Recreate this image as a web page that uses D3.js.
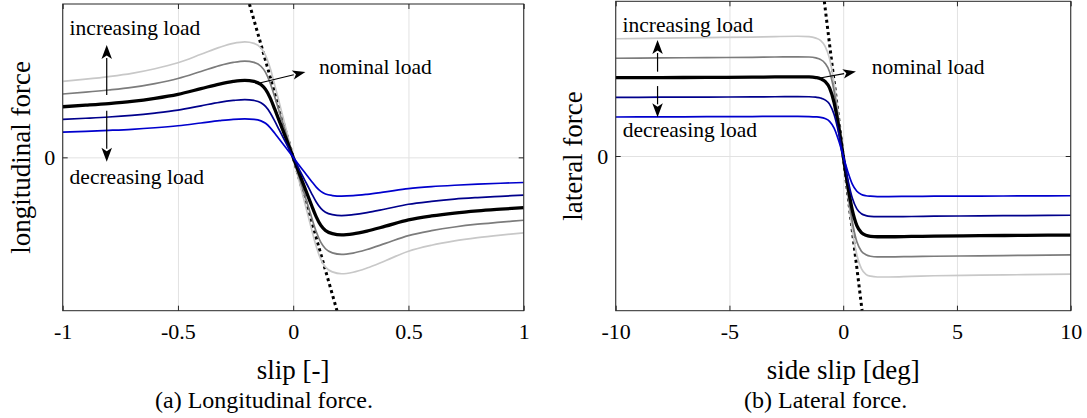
<!DOCTYPE html>
<html>
<head>
<meta charset="utf-8">
<script src="https://cdn.jsdelivr.net/npm/d3@7"></script>
<style>
  html, body { margin: 0; padding: 0; background: #fff; }
  svg { display: block; font-family: "Liberation Serif", "Times New Roman", serif; }
  text { font-family: "Liberation Serif", "Times New Roman", serif; fill: #000; }
</style>
</head>
<body>
<svg id="chart" width="1087" height="418"></svg>
<script>
// ---------- Longitudinal force vs. slip ----------
const slipX = [-1, -0.9, -0.8, -0.7, -0.6, -0.5, -0.4, -0.32, -0.26, -0.21, -0.17, -0.14, -0.12, -0.1,
  -0.08, -0.06, -0.04, -0.02, 0, 0.02, 0.04, 0.06, 0.08, 0.1, 0.12, 0.14, 0.17, 0.21, 0.26, 0.32,
  0.4, 0.5, 0.6, 0.7, 0.8, 0.9, 1];
const fxLoad150 = [0.495, 0.510, 0.527, 0.548, 0.578, 0.617, 0.672, 0.717, 0.743, 0.753, 0.743, 0.713, 0.665, 0.582,
  0.471, 0.354, 0.237, 0.120, 0, -0.120, -0.237, -0.354, -0.471, -0.582, -0.666, -0.716, -0.747, -0.759, -0.749, -0.722,
  -0.674, -0.612, -0.573, -0.545, -0.524, -0.507, -0.492];
const fxLoad125 = [0.413, 0.425, 0.439, 0.456, 0.481, 0.514, 0.560, 0.598, 0.619, 0.628, 0.619, 0.594, 0.554, 0.485,
  0.393, 0.295, 0.198, 0.100, 0, -0.100, -0.198, -0.295, -0.393, -0.485, -0.555, -0.596, -0.623, -0.633, -0.624, -0.601,
  -0.561, -0.510, -0.478, -0.454, -0.436, -0.423, -0.410];
const fxLoad100 = [0.330, 0.340, 0.351, 0.365, 0.385, 0.411, 0.448, 0.478, 0.495, 0.502, 0.495, 0.475, 0.443, 0.388,
  0.314, 0.236, 0.158, 0.080, 0, -0.080, -0.158, -0.236, -0.314, -0.388, -0.444, -0.477, -0.498, -0.506, -0.499, -0.481,
  -0.449, -0.408, -0.382, -0.363, -0.349, -0.338, -0.328];
const fxLoad075 = [0.248, 0.255, 0.263, 0.274, 0.289, 0.308, 0.336, 0.359, 0.371, 0.377, 0.371, 0.356, 0.332, 0.291,
  0.236, 0.177, 0.119, 0.060, 0, -0.060, -0.119, -0.177, -0.236, -0.291, -0.333, -0.358, -0.374, -0.380, -0.374, -0.361,
  -0.337, -0.306, -0.287, -0.272, -0.262, -0.254, -0.246];
const fxLoad050 = [0.165, 0.170, 0.176, 0.183, 0.193, 0.206, 0.224, 0.239, 0.248, 0.251, 0.248, 0.238, 0.222, 0.194,
  0.157, 0.118, 0.079, 0.040, 0, -0.040, -0.079, -0.118, -0.157, -0.194, -0.222, -0.239, -0.249, -0.253, -0.250, -0.241,
  -0.225, -0.204, -0.191, -0.182, -0.175, -0.169, -0.164];
// linear (slip stiffness) line
const slipStiffX = [-0.19, 0.19];
const slipStiffY = [1, -1];
const slipTicks = [-1, -0.5, 0, 0.5, 1];
const slipTickLabels = ["-1", "-0.5", "0", "0.5", "1"];

// ---------- Lateral force vs. side slip ----------
const sideSlipX = [-10, -8, -6, -4, -3, -2, -1.5, -1.2, -1, -0.8, -0.6, -0.4, -0.2, 0,
  0.2, 0.4, 0.6, 0.8, 1, 1.2, 1.5, 2, 3, 4, 6, 8, 10];
const fyLoad150 = [0.758, 0.762, 0.765, 0.769, 0.772, 0.774, 0.772, 0.762, 0.748, 0.710, 0.630, 0.470, 0.245, 0,
  -0.245, -0.475, -0.640, -0.728, -0.765, -0.777, -0.782, -0.782, -0.778, -0.774, -0.770, -0.767, -0.764];
const fyLoad125 = [0.632, 0.634, 0.636, 0.638, 0.640, 0.641, 0.640, 0.634, 0.624, 0.600, 0.545, 0.420, 0.225, 0,
  -0.225, -0.425, -0.555, -0.615, -0.638, -0.648, -0.652, -0.652, -0.650, -0.648, -0.645, -0.642, -0.639];
const fyLoad100 = [0.506, 0.507, 0.508, 0.510, 0.511, 0.512, 0.511, 0.507, 0.500, 0.482, 0.440, 0.345, 0.190, 0,
  -0.190, -0.350, -0.450, -0.495, -0.512, -0.519, -0.522, -0.522, -0.520, -0.518, -0.515, -0.513, -0.511];
const fyLoad075 = [0.379, 0.380, 0.381, 0.382, 0.383, 0.384, 0.383, 0.380, 0.375, 0.363, 0.335, 0.268, 0.150, 0,
  -0.150, -0.272, -0.342, -0.373, -0.385, -0.390, -0.392, -0.392, -0.391, -0.389, -0.387, -0.385, -0.383];
const fyLoad050 = [0.252, 0.253, 0.254, 0.255, 0.256, 0.256, 0.255, 0.253, 0.250, 0.242, 0.224, 0.180, 0.100, 0,
  -0.100, -0.182, -0.228, -0.249, -0.257, -0.260, -0.262, -0.262, -0.261, -0.260, -0.259, -0.258, -0.257];
// linear (cornering stiffness) line
const sideStiffX = [-0.83, 0.83];
const sideStiffY = [1, -1];
const sideSlipTicks = [-10, -5, 0, 5, 10];
const sideSlipTickLabels = ["-10", "-5", "0", "5", "10"];

const forceTicks = [0];
const forceTickLabels = ["0"];

// load levels, drawn back to front
const loadStyles = [
  { key: "l150", color: "#c8c8c8", width: 1.7 },
  { key: "l125", color: "#7c7c7c", width: 1.7 },
  { key: "l100", color: "#000000", width: 3.3 },
  { key: "l075", color: "#00008c", width: 1.7 },
  { key: "l050", color: "#0000cd", width: 1.7 }
];

const panels = [
  {
    id: "a",
    left: 62.7, right: 523.7, top: 4, bottom: 310.7,
    xDomain: [-1, 1], xs: slipX,
    series: { l150: fxLoad150, l125: fxLoad125, l100: fxLoad100, l075: fxLoad075, l050: fxLoad050 },
    stiffX: slipStiffX, stiffY: slipStiffY,
    ticks: slipTicks, tickLabels: slipTickLabels,
    xLabel: "slip [-]", yLabel: "longitudinal force", yLabelX: 30,
    caption: "(a) Longitudinal force.", captionX: 155,
    upArrow: { x: -0.809, from: 0.407, to: 0.733 },
    downArrow: { x: -0.809, from: 0.304, to: -0.028 },
    nomArrow: { x0: -0.15, y0: 0.483, x1: 0.053, y1: 0.557 },
    incText: { x: -0.97, y: 0.80 },
    decText: { x: -0.97, y: -0.176 },
    nomText: { x: 0.112, y: 0.544 }
  },
  {
    id: "b",
    left: 615.7, right: 1070.7, top: 1.3, bottom: 310.7,
    xDomain: [-10, 10], xs: sideSlipX,
    series: { l150: fyLoad150, l125: fyLoad125, l100: fyLoad100, l075: fyLoad075, l050: fyLoad050 },
    stiffX: sideStiffX, stiffY: sideStiffY,
    ticks: sideSlipTicks, tickLabels: sideSlipTickLabels,
    xLabel: "side slip [deg]", yLabel: "lateral force", yLabelX: 582,
    caption: "(b) Lateral force.", captionX: 744,
    upArrow: { x: -8.16, from: 0.545, to: 0.75 },
    downArrow: { x: -8.16, from: 0.452, to: 0.250 },
    nomArrow: { x0: -1.02, y0: 0.504, x1: 0.56, y1: 0.546 },
    incText: { x: -9.70, y: 0.80 },
    decText: { x: -9.69, y: 0.121 },
    nomText: { x: 1.25, y: 0.532 }
  }
];

const SERIF = '"Liberation Serif", "Times New Roman", serif';
const svg = d3.select("#chart");
svg.append("rect").attr("width", 1087).attr("height", 418).attr("fill", "#fff");

const AXIS = "#262626";
const GRID = "#e2e2e2";

function arrow(g, x0, y0, x1, y1, headLen, headW) {
  const dx = x1 - x0, dy = y1 - y0;
  const len = Math.hypot(dx, dy);
  const ux = dx / len, uy = dy / len;
  const bx = x1 - ux * headLen, by = y1 - uy * headLen;
  g.append("line")
    .attr("x1", x0).attr("y1", y0).attr("x2", bx + ux * 1).attr("y2", by + uy * 1)
    .attr("stroke", "#000").attr("stroke-width", 1.2);
  const px = -uy * headW / 2, py = ux * headW / 2;
  g.append("path")
    .attr("d", `M${x1},${y1}L${bx + px},${by + py}L${bx + ux * headLen * 0.25},${by + uy * headLen * 0.25}L${bx - px},${by - py}Z`)
    .attr("fill", "#000");
}

function serifText(sel, size) {
  return sel.attr("font-family", SERIF).style("font-family", SERIF).style("font-size", size + "px").attr("fill", "#000");
}

panels.forEach(p => {
  const x = d3.scaleLinear().domain(p.xDomain).range([p.left, p.right]);
  const y = d3.scaleLinear().domain([-1, 1]).range([p.bottom, p.top]);
  const w = p.right - p.left, h = p.bottom - p.top;
  const g = svg.append("g");

  const clipId = "clip-" + p.id;
  svg.append("clipPath").attr("id", clipId)
    .append("rect").attr("x", p.left).attr("y", p.top).attr("width", w).attr("height", h);

  // grid
  const gx = g.append("g").attr("transform", `translate(0,${p.bottom})`)
    .call(d3.axisBottom(x).tickValues(p.ticks).tickSize(-h).tickFormat(""));
  gx.select(".domain").remove();
  gx.selectAll("line").attr("stroke", GRID).attr("stroke-width", 1);
  const gy = g.append("g").attr("transform", `translate(${p.left},0)`)
    .call(d3.axisLeft(y).tickValues(forceTicks).tickSize(-w).tickFormat(""));
  gy.select(".domain").remove();
  gy.selectAll("line").attr("stroke", GRID).attr("stroke-width", 1);

  const plot = g.append("g").attr("clip-path", `url(#${clipId})`);

  // stiffness line
  const stiffPts = p.stiffX.map((v, i) => [v, p.stiffY[i]]);
  plot.append("path")
    .attr("d", d3.line().x(d => x(d[0])).y(d => y(d[1]))(stiffPts))
    .attr("fill", "none").attr("stroke", "#000").attr("stroke-width", 3)
    .attr("stroke-dasharray", "3,3.2");

  // force curves
  const line = d3.line().x(d => x(d[0])).y(d => y(d[1])).curve(d3.curveMonotoneX);
  loadStyles.forEach(s => {
    const pts = p.xs.map((v, i) => [v, p.series[s.key][i]]);
    plot.append("path")
      .attr("d", line(pts))
      .attr("fill", "none").attr("stroke", s.color).attr("stroke-width", s.width)
      .attr("stroke-linejoin", "round");
  });

  // box
  g.append("rect").attr("x", p.left).attr("y", p.top).attr("width", w).attr("height", h)
    .attr("fill", "none").attr("stroke", AXIS).attr("stroke-width", 1);

  // ticks and labels
  const ax = g.append("g").attr("transform", `translate(0,${p.bottom})`)
    .call(d3.axisBottom(x).tickValues(p.ticks).tickSizeInner(-5).tickSizeOuter(0)
      .tickFormat((d, i) => p.tickLabels[i]));
  ax.attr("font-family", SERIF).attr("font-size", null);
  ax.select(".domain").remove();
  ax.selectAll("line").attr("stroke", AXIS);
  serifText(ax.selectAll("text").attr("y", 28.5).attr("dy", null), 22);

  const axT = g.append("g").attr("transform", `translate(0,${p.top})`)
    .call(d3.axisTop(x).tickValues(p.ticks).tickSizeInner(-5).tickSizeOuter(0).tickFormat(""));
  axT.select(".domain").remove();
  axT.selectAll("line").attr("stroke", AXIS);

  const ay = g.append("g").attr("transform", `translate(${p.left},0)`)
    .call(d3.axisLeft(y).tickValues(forceTicks).tickSizeInner(-5).tickSizeOuter(0)
      .tickFormat((d, i) => forceTickLabels[i]));
  ay.attr("font-family", SERIF).attr("font-size", null);
  ay.select(".domain").remove();
  ay.selectAll("line").attr("stroke", AXIS);
  serifText(ay.selectAll("text").attr("x", -7.5).attr("dy", "0.34em"), 22);

  const ayR = g.append("g").attr("transform", `translate(${p.right},0)`)
    .call(d3.axisRight(y).tickValues(forceTicks).tickSizeInner(-5).tickSizeOuter(0).tickFormat(""));
  ayR.select(".domain").remove();
  ayR.selectAll("line").attr("stroke", AXIS);

  // axis titles
  serifText(g.append("text").attr("x", (p.left + p.right) / 2).attr("y", 379)
    .attr("text-anchor", "middle"), 27).text(p.xLabel);
  serifText(g.append("text")
    .attr("transform", `translate(${p.yLabelX},${(p.top + p.bottom) / 2}) rotate(-90)`)
    .attr("text-anchor", "middle"), 27).text(p.yLabel);

  // caption
  serifText(g.append("text").attr("x", p.captionX).attr("y", 408), 24).text(p.caption);

  // annotations
  const ann = g.append("g");
  arrow(ann, x(p.upArrow.x), y(p.upArrow.from), x(p.upArrow.x), y(p.upArrow.to), 14, 10.5);
  arrow(ann, x(p.downArrow.x), y(p.downArrow.from), x(p.downArrow.x), y(p.downArrow.to), 14, 10.5);
  arrow(ann, x(p.nomArrow.x0), y(p.nomArrow.y0), x(p.nomArrow.x1), y(p.nomArrow.y1), 13, 9.5);
  serifText(ann.append("text").attr("x", x(p.incText.x)).attr("y", y(p.incText.y)), 21.5).text("increasing load");
  serifText(ann.append("text").attr("x", x(p.decText.x)).attr("y", y(p.decText.y)), 21.5).text("decreasing load");
  serifText(ann.append("text").attr("x", x(p.nomText.x)).attr("y", y(p.nomText.y)), 21.5).text("nominal load");
});
</script>
</body>
</html>
